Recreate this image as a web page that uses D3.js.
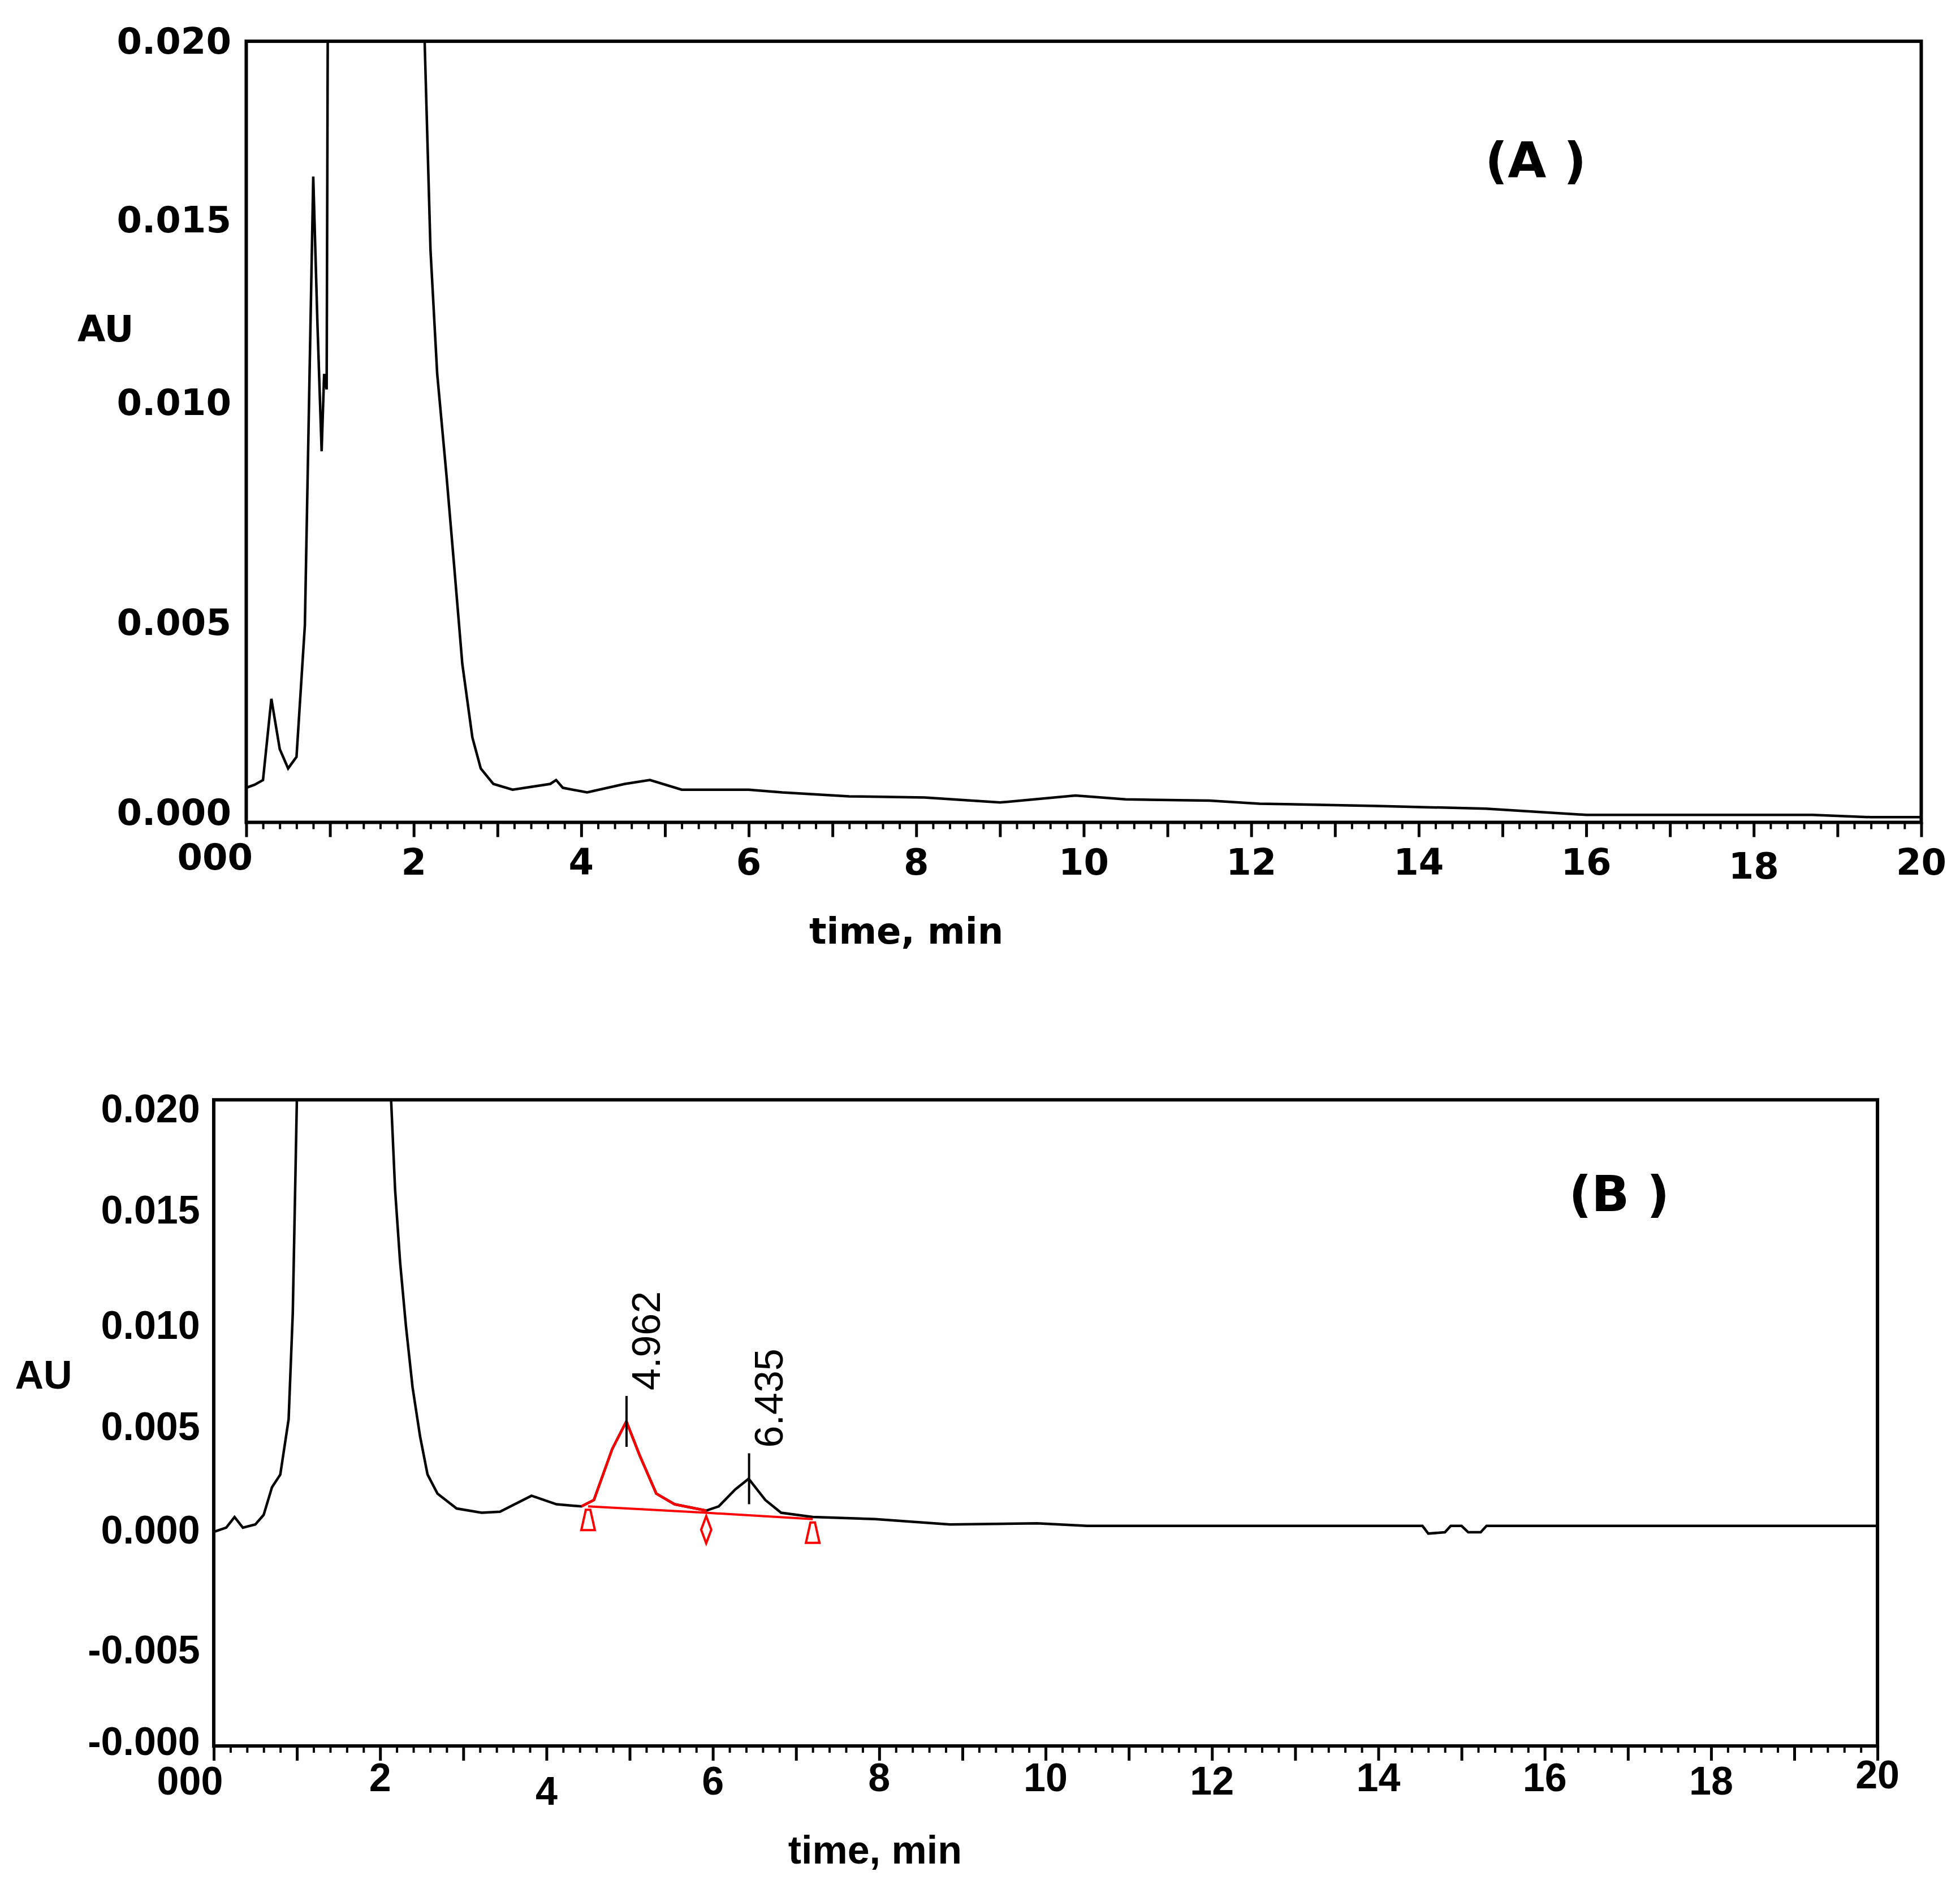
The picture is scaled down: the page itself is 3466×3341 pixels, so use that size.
<!DOCTYPE html>
<html><head><meta charset="utf-8">
<script src="https://cdn.jsdelivr.net/npm/d3@7"></script>
<style>body{margin:0;background:#fff}</style>
</head><body>
<svg id="c" width="3466" height="3341"></svg>
<script>
// Panel A trace [time, AU]
const timeA = [0,0.1,0.2,0.3,0.4,0.5,0.6,0.7,0.75,0.8,0.85,0.9,0.93,0.96,0.98,2.1,2.13,2.2,2.28,2.39,2.48,2.58,2.7,2.8,2.95,3.18,3.63,3.7,3.78,4.07,4.52,4.82,5.2,6.0,6.4,7.2,8.1,9.0,9.9,10.5,11.5,12.1,13.5,14.8,16,18.7,19.4,20];
const auA   = [0.0007,0.00078,0.0009,0.003,0.0017,0.0012,0.0015,0.0049,0.0107,0.0165,0.0127,0.0094,0.0114,0.011,0.025,0.025,0.02,0.0146,0.0114,0.0088,0.0065,0.0039,0.002,0.0012,0.0008,0.00065,0.0008,0.0009,0.0007,0.00058,0.0008,0.0009,0.00065,0.00065,0.00058,0.00048,0.00045,0.00032,0.0005,0.0004,0.00037,0.00029,0.00023,0.00016,0.0,0.0,-0.00006,-0.00006];
// Panel B trace
const timeB = [0,0.15,0.25,0.35,0.5,0.6,0.7,0.8,0.9,0.95,1.0,1.05,2.1,2.13,2.18,2.24,2.31,2.39,2.48,2.57,2.69,2.92,3.22,3.44,3.82,4.12,4.42,4.57,4.79,4.96,5.12,5.32,5.54,5.92,6.07,6.27,6.43,6.63,6.82,7.2,7.95,8.85,9.9,10.5,12.46,14.53,14.6,14.8,14.87,15.0,15.08,15.23,15.3,20];
const auB   = [-0.0001,0.0001,0.0006,0.0001,0.00025,0.0007,0.002,0.0026,0.0052,0.0102,0.0204,0.025,0.025,0.0204,0.016,0.0126,0.0096,0.0067,0.0044,0.0026,0.0017,0.001,0.0008,0.00085,0.0016,0.0012,0.0011,0.0014,0.0038,0.0051,0.0035,0.0017,0.0012,0.0009,0.0011,0.0019,0.0024,0.0014,0.0008,0.0006,0.0005,0.00025,0.0003,0.00018,0.00018,0.00018,-0.00018,-0.00012,0.00018,0.00018,-0.00012,-0.00012,0.00018,0.00018];
const peakTimes = [4.962, 6.435];
const peakLabels = ["4.962", "6.435"];
const baseT = [4.5, 5.92, 7.2];
const baseAU = [0.0011, 0.0008, 0.0005];
const ticksA = [0, 0.005, 0.01, 0.015, 0.02];
const tickLabA = ["0.000","0.005","0.010","0.015","0.020"];
const ticksB = [-0.01, -0.005, 0, 0.005, 0.01, 0.015, 0.02];
const tickLabB = ["-0.000","-0.005","0.000","0.005","0.010","0.015","0.020"];
const xTicks = [0,2,4,6,8,10,12,14,16,18,20];
const xLab = ["000","2","4","6","8","10","12","14","16","18","20"];

const s = 3466/1568;
const svg = d3.select('#c');

function panel(o) {
  const x = d3.scaleLinear().domain([0,20]).range([o.l*s, o.r*s]);
  const y = d3.scaleLinear().domain(o.yDom).range([o.y0*s, o.y1*s]);
  const g = svg.append('g');
  const cid = 'clip' + o.name;
  svg.append('clipPath').attr('id', cid).append('rect')
    .attr('x', o.l*s).attr('y', o.t*s).attr('width', (o.r-o.l)*s).attr('height', (o.b-o.t)*s);
  // frame
  g.append('rect').attr('x', o.l*s).attr('y', o.t*s).attr('width', (o.r-o.l)*s).attr('height', (o.b-o.t)*s)
    .attr('fill','none').attr('stroke','#000').attr('stroke-width',6);
  // x ticks: major every minute, minor every 0.2
  const ax = d3.axisBottom(x).tickValues(d3.range(0, 20.01, 0.2)).tickFormat('')
    .tickSizeInner(0).tickSizeOuter(0);
  const axg = g.append('g').attr('transform', `translate(0,${o.b*s})`).call(ax);
  axg.select('.domain').remove();
  axg.selectAll('.tick line')
    .attr('y2', d => Math.abs(d - Math.round(d)) < 1e-6 ? 26 : 12)
    .attr('stroke','#000').attr('stroke-width', d => Math.abs(d - Math.round(d)) < 1e-6 ? 5 : 4);
  g.selectAll('.xl').data(xTicks).join('text')
    .attr('x', (d,i) => x(d) + (i===0 ? -o.zeroShift*s : 0))
    .attr('y', (d,i) => (o.xLabY + (o.xLabDy[i]||0))*s)
    .attr('text-anchor','middle')
    .attr('font-family', o.font).attr('font-weight','bold').attr('font-size', o.fs)
    .text((d,i) => xLab[i]);
  g.selectAll('.yl').data(o.yt).join('text')
    .attr('x', o.ylx*s).attr('y', (d,i) => o.yLabPos[i]*s)
    .attr('dy','0.35em').attr('text-anchor','end')
    .attr('font-family', o.font).attr('font-weight','bold').attr('font-size', o.fs)
    .text((d,i) => o.ytl[i]);
  g.append('text').attr('x', o.au[0]*s).attr('y', o.au[1]*s).attr('dy','0.35em')
    .attr('font-family', o.font).attr('font-weight','bold').attr('font-size', o.fs).text('AU');
  g.append('text').attr('x', o.xt[0]*s).attr('y', o.xt[1]*s).attr('dy','0.35em').attr('text-anchor','middle')
    .attr('font-family', o.font).attr('font-weight','bold').attr('font-size', o.fs).text('time, min');
  g.append('text').attr('x', o.tag[0]*s).attr('y', o.tag[1]*s).attr('dy','0.35em')
    .attr('font-family','DejaVu Sans').attr('font-weight','bold').attr('font-size', 88).text(o.tagText);
  const line = d3.line().x(d => x(d[0])).y(d => y(d[1]));
  g.append('path').datum(o.tx.map((t,i) => [t, o.au2[i]]))
    .attr('d', line).attr('fill','none').attr('stroke','#000').attr('stroke-width',4.5)
    .attr('clip-path', `url(#${cid})`);
  return {x, y, g, line};
}

panel({name:'A', l:197, r:1537, t:33, b:658, y0:652, y1:33, yDom:[0,0.02],
  yt: ticksA, ytl: tickLabA, yLabPos:[650,498,322,176,33], ylx:185,
  font:'DejaVu Sans', fs:64, xLabY:700, xLabDy:[-4,0,0,0,0,0,0,0,0,3,0], zeroShift:25,
  au:[62,263], xt:[725,745], tag:[1188,128], tagText:'(A )', tx:timeA, au2:auA});

const B = panel({name:'B', l:171, r:1502, t:880, b:1397, y0:1224, y1:884, yDom:[0,0.02],
  yt: ticksB, ytl: tickLabB, yLabPos:[1393,1320,1224,1141,1060,968,887], ylx:160,
  font:'Liberation Sans', fs:70, xLabY:1436, xLabDy:[0,-3,8,0,-3,-3,0,-3,-3,0,-5], zeroShift:19,
  au:[12,1100], xt:[700,1480], tag:[1255,955], tagText:'(B )', tx:timeB, au2:auB});

// red integrated peak segment
const redIdx = timeB.map((t,i) => i).filter(i => timeB[i] >= 4.42 && timeB[i] <= 5.92);
B.g.append('path').datum(redIdx.map(i => [timeB[i], auB[i]]))
  .attr('d', B.line).attr('fill','none').attr('stroke','#f00').attr('stroke-width',4.5);
B.g.append('path').datum(baseT.map((t,i) => [t, baseAU[i]]))
  .attr('d', B.line).attr('fill','none').attr('stroke','#f00').attr('stroke-width',4);
// baseline markers
B.g.selectAll('.mk').data(baseT).join('path')
  .attr('transform', (d,i) => `translate(${B.x(d)},${B.y(baseAU[i]) + 30})`)
  .attr('d', (d,i) => i===1 ? 'M0,-24L9,0L0,24L-9,0Z' : 'M-4,-24L4,-24L12,12L-12,12Z')
  .attr('fill','none').attr('stroke','#f00').attr('stroke-width',4);
// peak marks and labels
peakTimes.forEach((t,i) => {
  const xp = B.x(t);
  const yp = B.y(d3.max(timeB.map((tt,k) => Math.abs(tt - t) < 0.1 ? auB[k] : -1)));
  B.g.append('line').attr('x1', xp).attr('x2', xp).attr('y1', yp - 45).attr('y2', yp + 45)
    .attr('stroke','#000').attr('stroke-width',4);
  B.g.append('text').attr('transform', `translate(${xp + 35},${yp - 55}) rotate(-90)`)
    .attr('font-family','Liberation Sans').attr('font-size',70).attr('dy','0.35em')
    .text(peakLabels[i]);
});
</script>
</body></html>
